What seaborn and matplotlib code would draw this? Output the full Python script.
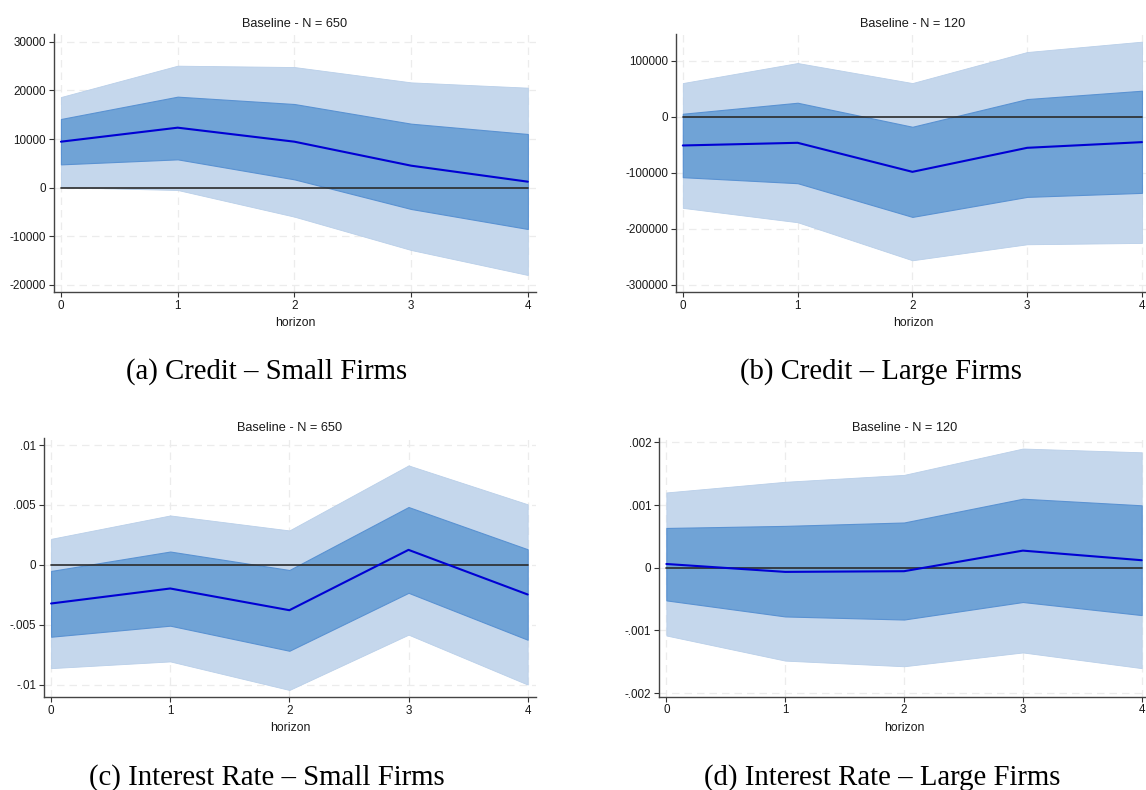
import numpy as np
import pandas as pd
import matplotlib
matplotlib.use("Agg")
import matplotlib.pyplot as plt
import seaborn as sns

#### horizon and impulse responses
horizon = [0, 1, 2, 3, 4]

# (a) Credit - Small Firms
a_mid = [9450, 12330, 9450, 4520, 1230]
a_in_hi = [14110, 18700, 17190, 13150, 11030]
a_in_lo = [4790, 5820, 1710, -4380, -8490]
a_out_hi = [18630, 25070, 24790, 21640, 20550]
a_out_lo = [100, -480, -5960, -12810, -17950]

# (b) Credit - Large Firms
b_mid = [-51190, -46430, -98210, -55360, -45240]
b_in_hi = [5360, 25000, -17860, 31550, 46430]
b_in_lo = [-107740, -118450, -178570, -142860, -135710]
b_out_hi = [60120, 95830, 60120, 115480, 133930]
b_out_lo = [-162500, -188100, -255950, -227380, -225000]

# (c) Interest Rate - Small Firms
c_mid = [-0.00321, -0.00196, -0.00377, 0.00126, -0.00246]
c_in_hi = [-0.0005, 0.00112, -0.00042, 0.00483, 0.00131]
c_in_lo = [-0.00598, -0.00506, -0.00715, -0.00232, -0.00623]
c_out_hi = [0.00218, 0.00413, 0.00288, 0.0083, 0.00506]
c_out_lo = [-0.0086, -0.00804, -0.01042, -0.00581, -0.00997]

# (d) Interest Rate - Large Firms
d_mid = [0.00006, -0.000066, -0.000055, 0.000273, 0.00012]
d_in_hi = [0.000634, 0.000667, 0.000721, 0.0011, 0.000995]
d_in_lo = [-0.00052, -0.000776, -0.000825, -0.000546, -0.000754]
d_out_hi = [0.0012, 0.00137, 0.00148, 0.0019, 0.00184]
d_out_lo = [-0.00108, -0.00148, -0.00157, -0.00135, -0.0016]

titles = ["Baseline - N = 650", "Baseline - N = 120", "Baseline - N = 650", "Baseline - N = 120"]
captions = ["(a) Credit \u2013 Small Firms", "(b) Credit \u2013 Large Firms",
            "(c) Interest Rate \u2013 Small Firms", "(d) Interest Rate \u2013 Large Firms"]
yticks_a = [-20000, -10000, 0, 10000, 20000, 30000]
yticks_b = [-300000, -200000, -100000, 0, 100000]
yticks_c = [-0.01, -0.005, 0, 0.005, 0.01]
ytick_labels_c = ["-.01", "-.005", "0", ".005", ".01"]
yticks_d = [-0.002, -0.001, 0, 0.001, 0.002]
ytick_labels_d = ["-.002", "-.001", "0", ".001", ".002"]

sns.set_theme(style="ticks")
plt.rcParams["font.family"] = ["Liberation Sans", "DejaVu Sans"]

fig = plt.figure(figsize=(11.46, 7.90), dpi=100)
W, H = 1146.0, 790.0

def box(l, r, t, b):
    return [l / W, 1 - b / H, (r - l) / W, (b - t) / H]

axes = [fig.add_axes(box(53.7, 536, 34, 292)),
        fig.add_axes(box(675.7, 1150, 34, 292)),
        fig.add_axes(box(43.7, 536, 438.3, 697.3)),
        fig.add_axes(box(659, 1150, 438.3, 696.7))]

panels = [
    (a_mid, a_in_hi, a_in_lo, a_out_hi, a_out_lo, yticks_a, [str(v) for v in yticks_a], (-21440, 31580)),
    (b_mid, b_in_hi, b_in_lo, b_out_hi, b_out_lo, yticks_b, [str(v) for v in yticks_b], (-312500, 147600)),
    (c_mid, c_in_hi, c_in_lo, c_out_hi, c_out_lo, yticks_c, ytick_labels_c, (-0.01103, 0.01056)),
    (d_mid, d_in_hi, d_in_lo, d_out_hi, d_out_lo, yticks_d, ytick_labels_d, (-0.002055, 0.002063)),
]

for i, (ax, p) in enumerate(zip(axes, panels)):
    mid, in_hi, in_lo, out_hi, out_lo, yt, ytl, ylim = p
    df = pd.DataFrame({"horizon": horizon, "irf": mid, "zero": [0] * len(horizon)})
    ax.fill_between(df["horizon"], out_lo, out_hi, color="#c5d7ec", linewidth=0.6,
                    edgecolor="#b9cfe9", zorder=1)
    ax.fill_between(df["horizon"], in_lo, in_hi, color="#70a3d6", linewidth=0.8,
                    edgecolor="#5a92d2", zorder=2)
    sns.lineplot(data=df, x="horizon", y="zero", ax=ax, color="#2b2b2b", linewidth=1.2, zorder=3)
    sns.lineplot(data=df, x="horizon", y="irf", ax=ax, color="#0000d4", linewidth=1.5, zorder=4)
    ax.set_xlim(-0.062, 4.07)
    ax.set_ylim(*ylim)
    ax.set_xticks(horizon)
    ax.set_yticks(yt)
    ax.set_yticklabels(ytl)
    ax.grid(True, linestyle=(0, (6, 4)), color="#ececec", linewidth=0.9)
    ax.set_axisbelow(True)
    ax.tick_params(axis="both", labelsize=8.4, length=3.5, width=0.8, color="#333333",
                   pad=2, labelcolor="#1a1a1a")
    ax.set_xlabel("horizon", fontsize=8.8, color="#1a1a1a", labelpad=4)
    ax.set_ylabel("")
    ax.set_title(titles[i], fontsize=9.2, color="#1a1a1a", pad=5)
    sns.despine(ax=ax)
    for s in ["left", "bottom"]:
        ax.spines[s].set_color("#444444")
        ax.spines[s].set_linewidth(1.0)

cap_pos = [(267, 372), (881, 372), (267, 778), (882, 778)]
for txt, (cx, cy) in zip(captions, cap_pos):
    fig.text(cx / W, 1 - cy / H, txt, ha="center", va="center", fontsize=20.7,
             family=["Liberation Serif", "DejaVu Serif"], color="black")

plt.savefig("out.png", dpi=100)
